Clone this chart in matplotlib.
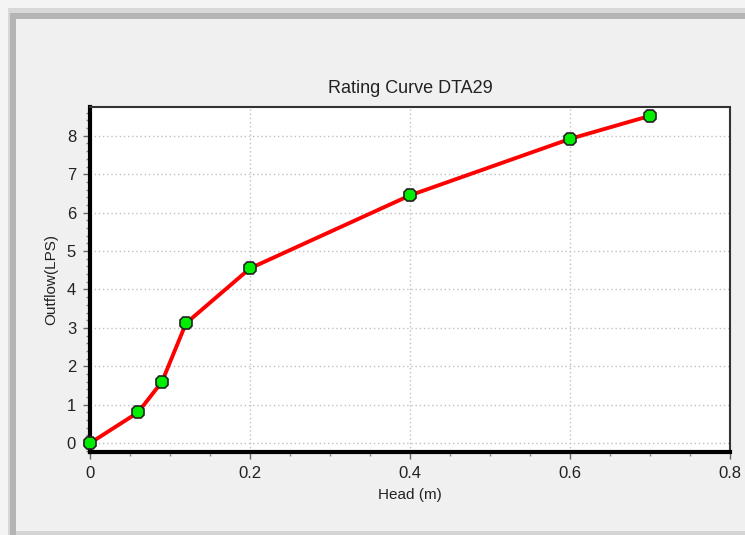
import matplotlib.pyplot as plt
import matplotlib.patches as patches
from matplotlib.ticker import MultipleLocator

# Rating curve data for DTA29
head = [0.0, 0.06, 0.09, 0.12, 0.2, 0.4, 0.6, 0.7]
outflow = [0.0, 0.8, 1.6, 3.12, 4.55, 6.45, 7.92, 8.52]

title = 'Rating Curve DTA29'
xlabel = 'Head (m)'
ylabel = 'Outflow(LPS)'
xticks = [0, 0.2, 0.4, 0.6, 0.8]
xticklabels = ['0', '0.2', '0.4', '0.6', '0.8']

plt.rcParams['font.family'] = ['Liberation Sans', 'DejaVu Sans']

fig = plt.figure(figsize=(7.45, 5.35), dpi=100)
fig.patch.set_facecolor('#f0f0f0')

# window frame shading along the top/left edges
W, H = 745.0, 535.0
def frame_rect(x, y, w, h, color):
    fig.patches.append(patches.Rectangle((x / W, 1 - (y + h) / H), w / W, h / H,
                                         transform=fig.transFigure, color=color,
                                         zorder=0, lw=0))
frame_rect(0, 0, 745, 8, '#f4f4f4')
frame_rect(0, 0, 8, 535, '#f4f4f4')
frame_rect(8, 8, 737, 5, '#d8d8d8')
frame_rect(8, 8, 5, 527, '#d8d8d8')
frame_rect(10, 13, 735, 6, '#b4b4b4')
frame_rect(10, 13, 6, 522, '#b4b4b4')
frame_rect(16, 531, 729, 4, '#d4d4d4')

ax = fig.add_axes([90 / W, 1 - 452 / H, 640 / W, 345 / H])
ax.set_facecolor('white')

ax.plot(head, outflow, color='#ff0000', lw=2.8, zorder=3)
ax.plot(head, outflow, ls='none', marker='8', ms=10, mfc='#00ee00',
        mec='#222222', mew=1.2, zorder=4, clip_on=False)

ax.set_xlim(0, 0.8)
ax.set_ylim(-0.23, 8.75)
ax.set_xticks(xticks)
ax.set_xticklabels(xticklabels)
ax.xaxis.set_minor_locator(MultipleLocator(0.05))
ax.yaxis.set_major_locator(MultipleLocator(1))
ax.yaxis.set_minor_locator(MultipleLocator(0.2))

ax.grid(True, which='major', color='#c0c0c0', ls=(0, (1, 2)), lw=1)
ax.set_axisbelow(True)

for side in ['left', 'bottom']:
    ax.spines[side].set_linewidth(3)
    ax.spines[side].set_color('black')
for side in ['top', 'right']:
    ax.spines[side].set_linewidth(1.5)
    ax.spines[side].set_color('#333333')
ax.spines['right'].set_linestyle((0, (1, 1)))

ax.tick_params(which='major', direction='out', length=5, width=1, color='#666666',
               labelsize=12, labelcolor='#222222', pad=5)
ax.tick_params(which='minor', direction='out', length=3, width=1, color='#888888')

ax.set_title(title, fontsize=13, color='#222222', pad=10)
ax.set_xlabel(xlabel, fontsize=11, color='#222222', labelpad=5)
ax.set_ylabel(ylabel, fontsize=11, color='#222222', labelpad=6)

fig.savefig('out.png', dpi=100, facecolor=fig.get_facecolor())
